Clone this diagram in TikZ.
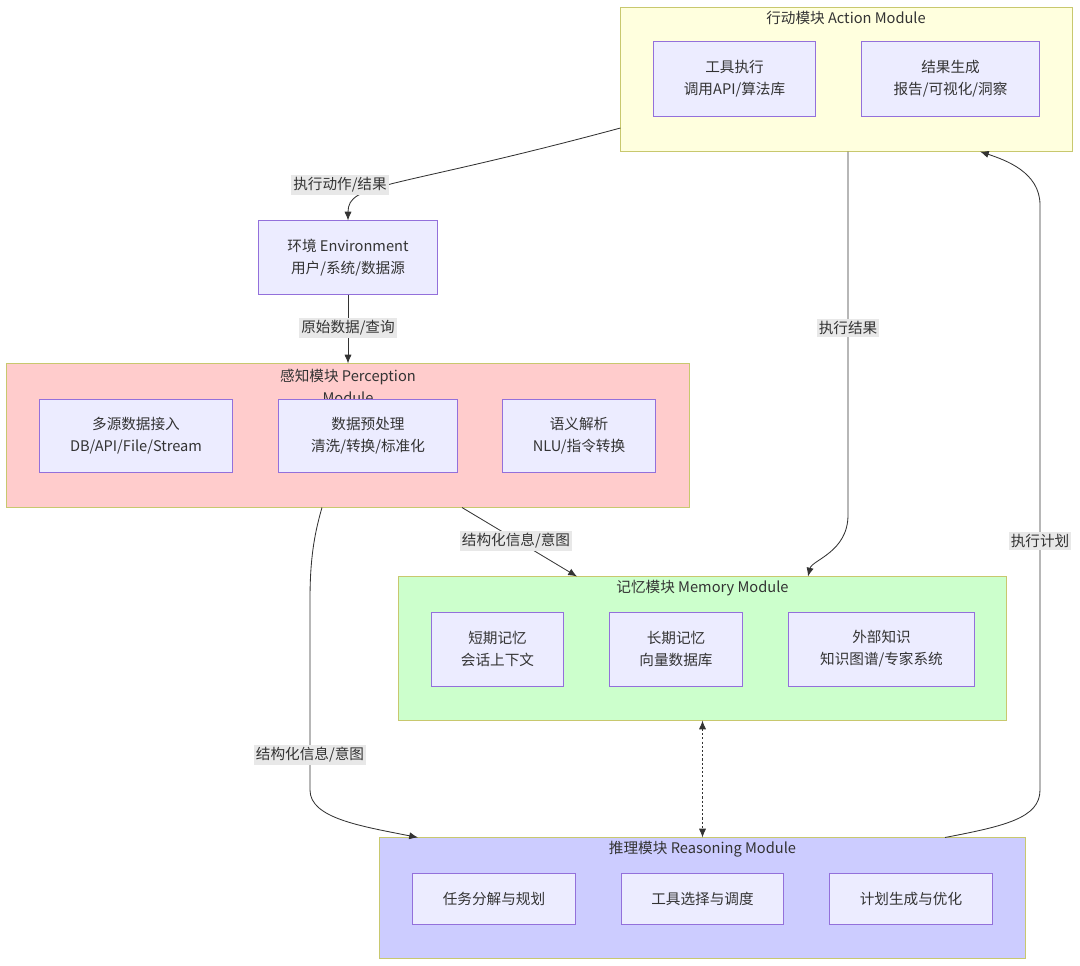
\documentclass[tikz,border=0pt]{standalone}
\usepackage{fontspec}
\setmainfont{Noto Sans CJK SC}
\usetikzlibrary{arrows.meta}

\definecolor{itemfill}{HTML}{ECECFF}
\definecolor{itemline}{HTML}{9370DB}
\definecolor{grpline}{HTML}{C8C86E}
\definecolor{actfill}{HTML}{FFFFDE}
\definecolor{percfill}{HTML}{FFCCCC}
\definecolor{memfill}{HTML}{CCFFCC}
\definecolor{reasfill}{HTML}{CCCCFF}
\definecolor{lblfill}{HTML}{E8E8E8}
\definecolor{ink}{HTML}{333333}

\begin{document}
\begin{tikzpicture}[
    x=0.025cm, y=-0.025cm,
    every node/.style={font=\fontsize{10.4}{15.6}\selectfont, text=ink},
    group/.style={draw=grpline, line width=0.7pt, inner sep=0pt},
    item/.style={draw=itemline, fill=itemfill, line width=0.7pt, align=center, inner sep=0pt, minimum height=1.85cm},
    title/.style={align=center, inner sep=0pt},
    lbl/.style={fill=lblfill, inner sep=1.5pt},
    flow/.style={-{Latex[length=2.2mm,width=1.8mm]}, draw=ink, line width=0.6pt},
    link/.style={{Latex[length=2.2mm,width=1.8mm]}-{Latex[length=2.2mm,width=1.8mm]}, draw=ink, line width=0.6pt, dash pattern=on 1.5pt off 1.5pt}
]
\useasboundingbox (0,0) rectangle (1080,966);

% module frames
\node[group, fill=actfill, minimum width=11.275cm, minimum height=3.575cm] (act) at (846.5,79.5) {};
\node[group, fill=percfill, minimum width=17.05cm, minimum height=3.575cm] (perc) at (348,435.5) {};
\node[group, fill=memfill, minimum width=15.175cm, minimum height=3.575cm] (mem) at (702.5,648.5) {};
\node[group, fill=reasfill, minimum width=16.125cm, minimum height=3.0cm] (reas) at (702.5,898) {};

\node[title] (acttitle) at (846,18) {行动模块 Action Module};
\node[title] (perctitle) at (348,386) {感知模块 Perception\\Module};
\node[title] (memtitle) at (702.5,588) {记忆模块 Memory Module};
\node[title] (reastitle) at (702.5,849) {推理模块 Reasoning Module};

% action
\node[item, minimum width=4.025cm] (tool) at (734.5,79) {工具执行\\调用API/算法库};
\node[item, minimum width=4.425cm] (result) at (950.5,79) {结果生成\\报告/可视化/洞察};

% environment
\node[item, minimum width=4.45cm, minimum height=1.825cm] (env) at (348,257.5) {环境 Environment\\用户/系统/数据源};

% perception
\node[item, minimum width=4.8cm, minimum height=1.825cm] (ingest) at (136,435.5) {多源数据接入\\DB/API/File/Stream};
\node[item, minimum width=4.45cm, minimum height=1.825cm] (prep) at (368,435.5) {数据预处理\\清洗/转换/标准化};
\node[item, minimum width=3.8cm, minimum height=1.825cm] (parse) at (579,435.5) {语义解析\\NLU/指令转换};

% memory
\node[item, minimum width=3.275cm] (short) at (497.5,649) {短期记忆\\会话上下文};
\node[item, minimum width=3.3cm] (long) at (676,649) {长期记忆\\向量数据库};
\node[item, minimum width=4.625cm] (know) at (881.5,649) {外部知识\\知识图谱/专家系统};

% reasoning
\node[item, minimum width=4.05cm, minimum height=1.275cm] (plan) at (494,898.5) {任务分解与规划};
\node[item, minimum width=4.025cm, minimum height=1.275cm] (select) at (702.5,898.5) {工具选择与调度};
\node[item, minimum width=4.05cm, minimum height=1.275cm] (optim) at (911,898.5) {计划生成与优化};

% connectors
\draw[flow] (act.west |- 0,128) .. controls +(-230,62) and +(0,-38) .. (env.north);
\draw[flow] (env.south) -- (perc.north);
\draw[flow] (act.south -| 848,0) -- (848,515) .. controls (848,552) and (812,560) .. (mem.north -| 808,0);
\draw[flow] (perc.south -| 462,0) -- (mem.north -| 577,0);
\draw[flow] (perc.south -| 322,0) .. controls (314,535) and (310,560) .. (310,600) -- (310,790)
    .. controls (310,818) and (360,826) .. (reas.north -| 418,0);
\draw[flow] (reas.north -| 945,0) .. controls (1005,826) and (1040,818) .. (1040,790) -- (1040,205)
    .. controls (1040,172) and (1005,160) .. (act.south -| 980,0);
\draw[link] (mem.south) -- (reas.north);

% edge labels
\node[lbl] (lblact) at (340,185) {执行动作/结果};
\node[lbl] (lblraw) at (348,328) {原始数据/查询};
\node[lbl] (lblres) at (848,328) {执行结果};
\node[lbl] (lblstruct) at (516,541) {结构化信息/意图};
\node[lbl] (lblstructb) at (310,755) {结构化信息/意图};
\node[lbl] (lblplan) at (1040,541) {执行计划};
\end{tikzpicture}
\end{document}
